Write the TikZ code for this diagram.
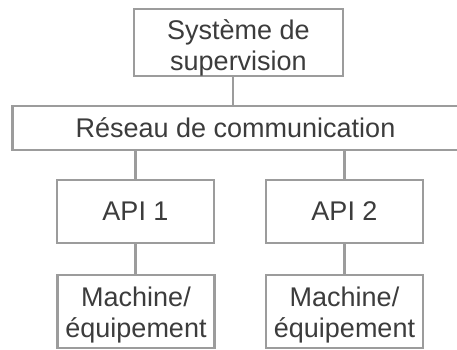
\documentclass[tikz,border=0pt]{standalone}
\usepackage{fontspec}
\setmainfont{Liberation Sans}
\definecolor{edgegray}{HTML}{9C9C9C}
\definecolor{textgray}{HTML}{3C3C3C}
\begin{document}
\begin{tikzpicture}[x=1pt,y=-1pt,
  box/.style={draw=edgegray, line width=2.2pt, fill=white, text=textgray,
    align=center, inner sep=0pt, minimum width=157pt,
    font=\fontsize{27}{31}\selectfont},
  link/.style={draw=edgegray, line width=2.2pt}]
  \useasboundingbox (0,0) rectangle (457,349);

  % supervision level
  \node[box, minimum width=209pt, minimum height=61pt] (sup) at (238.5,42.5)
    {\rule{0pt}{30pt}Système de\\supervision};

  % communication bus, running off the right edge
  \node[box, minimum width=446pt, minimum height=44pt] (net) at (235.5,128)
    {Réseau de communication};

  % controllers
  \node[box, minimum height=63pt] (api1) at (135.5,211.5) {API 1};
  \node[box, minimum height=63pt] (api2) at (344.5,211.5) {API 2};

  % field equipment
  \node[box, minimum height=73pt] (mach1) at (136,311.5)
    {\rule{0pt}{26pt}Machine/\\équipement};
  \node[box, minimum height=73pt] (mach2) at (344.5,311.5)
    {\rule{0pt}{26pt}Machine/\\équipement};

  % links
  \draw[link] ([xshift=-5.5pt]sup.south) -- ([xshift=-5.5pt]sup.south |- net.north);
  \draw[link] (api1.north) -- (api1.north |- net.south);
  \draw[link] (api2.north) -- (api2.north |- net.south);
  \draw[link] (api1.south) -- (mach1.north -| api1.south);
  \draw[link] (api2.south) -- (mach2.north -| api2.south);
\end{tikzpicture}
\end{document}
